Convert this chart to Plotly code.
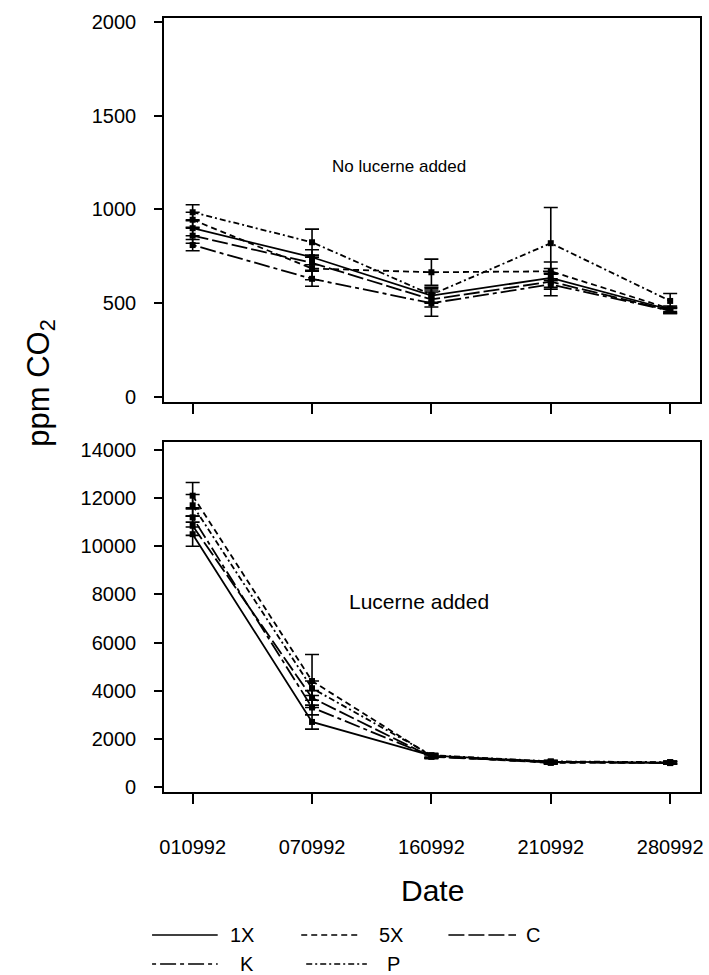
import plotly.graph_objects as go

# ---------------- data ----------------
dates = ["010992", "070992", "160992", "210992", "280992"]
series = ["1X", "5X", "C", "K", "P"]

# No lucerne added (ppm CO2)
top_vals = {
    "1X": [900, 745, 540, 635, 465],
    "5X": [945, 685, 665, 670, 470],
    "C":  [860, 715, 520, 615, 460],
    "K":  [810, 630, 500, 600, 460],
    "P":  [985, 825, 545, 820, 512],
}
top_err = {
    "1X": [40, 40, 40, 50, 15],
    "5X": [40, 60, 70, 50, 15],
    "C":  [40, 40, 40, 40, 15],
    "K":  [30, 40, 70, 60, 15],
    "P":  [40, 70, 40, 190, 40],
}
# Lucerne added (ppm CO2)
bot_vals = {
    "1X": [10500, 2700, 1300, 1050, 1000],
    "5X": [12100, 4400, 1280, 1000, 1020],
    "C":  [10850, 3700, 1250, 1030, 990],
    "K":  [11200, 3300, 1270, 1020, 1010],
    "P":  [11700, 4100, 1320, 1060, 1030],
}
bot_err = {
    "1X": [500, 300, 80, 50, 50],
    "5X": [550, 1100, 80, 50, 50],
    "C":  [400, 300, 80, 50, 50],
    "K":  [400, 300, 80, 50, 50],
    "P":  [450, 300, 80, 50, 50],
}
top_ticks = [0, 500, 1000, 1500, 2000]
bot_ticks = [0, 2000, 4000, 6000, 8000, 10000, 12000, 14000]

dash = {"1X": "solid", "5X": "6px,4px", "C": "16px,4px",
        "K": "4px,4px,16px,4px", "P": "6px,3px,2px,3px"}

# ---------------- geometry ----------------
W, H = 709, 975
L, R, T, B = 164, 703, 18, 792


def px(x):
    return (x - L) / (R - L)


def py(y):
    return (B - y) / (B - T)


fig = go.Figure()
for s in series:
    for vals, errs, xa, ya in [(top_vals, top_err, "x", "y"), (bot_vals, bot_err, "x2", "y2")]:
        fig.add_trace(go.Scatter(
            x=dates, y=vals[s], xaxis=xa, yaxis=ya, name=s, showlegend=False,
            mode="lines+markers",
            line=dict(color="black", width=1.8, dash=dash[s]),
            marker=dict(symbol="square", size=6, color="black"),
            error_y=dict(type="data", array=errs[s], color="black", thickness=1.6, width=7),
        ))

font_ticks = dict(family="Liberation Sans, Arial", size=20, color="black")
axis_common = dict(showline=True, linecolor="black", linewidth=1.6, mirror=True,
                   showgrid=False, zeroline=False, ticks="outside", tickcolor="black",
                   tickwidth=1.6)

fig.update_layout(
    width=W, height=H,
    margin=dict(l=L, r=W - R, t=T, b=H - B),
    paper_bgcolor="white", plot_bgcolor="white",
    font=dict(family="Liberation Sans, Arial", color="black"),
    xaxis=dict(anchor="y", domain=[0, 1], type="category", range=[-0.24, 4.25],
               ticklen=10, showticklabels=False, **axis_common),
    yaxis=dict(anchor="x", domain=[py(402), 1], range=[-27, 2021], tickvals=top_ticks,
               ticktext=[str(v) for v in top_ticks],
               ticklen=8, tickfont=font_ticks, ticklabelstandoff=14, **axis_common),
    xaxis2=dict(anchor="y2", domain=[0, 1], type="category", range=[-0.24, 4.25],
                ticklen=10, tickfont=font_ticks, ticklabelstandoff=26, **axis_common),
    yaxis2=dict(anchor="x2", domain=[0, py(442)], range=[-210, 14330], tickvals=bot_ticks,
                ticktext=[str(v) for v in bot_ticks],
                ticklen=8, tickfont=font_ticks, ticklabelstandoff=14, **axis_common),
)

ann = [
    dict(text="No lucerne added", x=px(400), y=py(167), font=dict(size=17)),
    dict(text="Lucerne added", x=px(420), y=py(601), font=dict(size=21)),
    dict(text="ppm CO<sub>2</sub>", x=px(40), y=py(383), textangle=-90, font=dict(size=31)),
    dict(text="Date", x=px(434), y=py(890), font=dict(size=30)),
]
for a in ann:
    fig.add_annotation(xref="paper", yref="paper", showarrow=False,
                       xanchor="center", yanchor="middle", **a)

# manual legend (two rows)
legend_pos = {"1X": (152, 218, 228, 935), "5X": (302, 360, 378, 935),
              "C": (450, 518, 526, 935), "K": (152, 218, 238, 964),
              "P": (307, 368, 386, 964)}
for s in series:
    x0, x1, xl, yy = legend_pos[s]
    fig.add_shape(type="line", xref="paper", yref="paper", x0=px(x0), x1=px(x1),
                  y0=py(yy), y1=py(yy), line=dict(color="black", width=1.6, dash=dash[s]))
    fig.add_annotation(xref="paper", yref="paper", showarrow=False, x=px(xl), y=py(yy),
                       xanchor="left", yanchor="middle", text=s, font=dict(size=20))

fig.write_html("out.html")
